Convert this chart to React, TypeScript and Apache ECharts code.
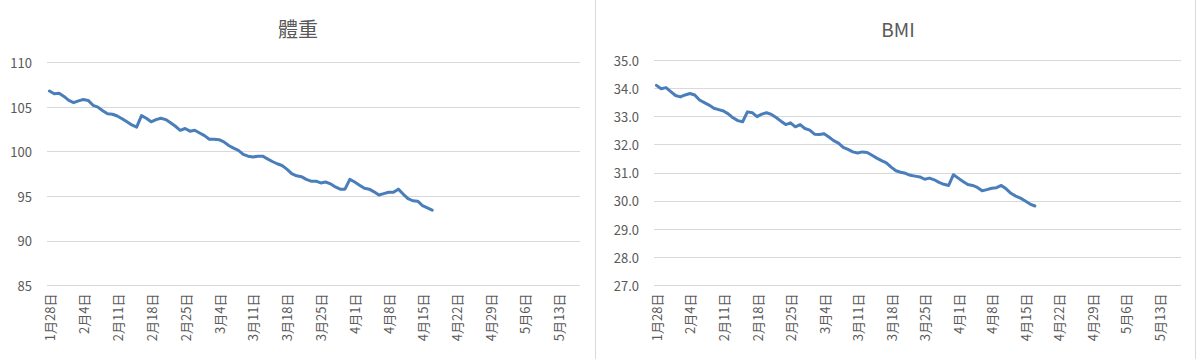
import React, { useEffect, useRef } from "react";
import * as echarts from "echarts";

// Day-by-day categories: 1月28日 … 5月17日 (110 days, non-leap year)
const startMonth = 1;
const startDay = 28;
const dayCount = 110;
const monthLengths = [31, 28, 31, 30, 31, 30];

const weightTitle = "體重";
const bmiTitle = "BMI";

// 體重 (kg), one reading per day from 1月28日
const weightValues = [
  106.8, 106.5, 106.55, 106.2, 105.75, 105.5, 105.7, 105.85, 105.75, 105.2,
  105.0, 104.6, 104.25, 104.2, 104.0, 103.7, 103.35, 103.0, 102.75, 104.05,
  103.75, 103.35, 103.6, 103.75, 103.6, 103.25, 102.85, 102.4, 102.6, 102.3,
  102.4, 102.1, 101.8, 101.4, 101.4, 101.35, 101.1, 100.7, 100.4, 100.15,
  99.7, 99.5, 99.4, 99.5, 99.5, 99.2, 98.9, 98.65, 98.45, 98.05,
  97.55, 97.3, 97.2, 96.9, 96.7, 96.7, 96.5, 96.6, 96.4, 96.05,
  95.8, 95.8, 96.9, 96.6, 96.25, 95.9, 95.8, 95.5, 95.15, 95.3,
  95.45, 95.45, 95.8, 95.25, 94.75, 94.5, 94.45, 93.95, 93.7, 93.45,
];

// BMI, one reading per day from 1月28日
const bmiValues = [
  34.1, 33.98, 34.02, 33.88, 33.74, 33.69, 33.76, 33.81, 33.76, 33.58,
  33.49, 33.4, 33.29, 33.24, 33.19, 33.09, 32.95, 32.85, 32.81, 33.16,
  33.13, 32.99, 33.08, 33.13, 33.07, 32.96, 32.83, 32.71, 32.77, 32.63,
  32.71, 32.57, 32.51, 32.37, 32.36, 32.38, 32.27, 32.14, 32.05, 31.9,
  31.83, 31.74, 31.7, 31.74, 31.72, 31.62, 31.52, 31.43, 31.35, 31.2,
  31.07, 31.02, 30.98, 30.91, 30.88, 30.85, 30.77, 30.81, 30.75, 30.66,
  30.59, 30.55, 30.93, 30.81, 30.69, 30.58, 30.55, 30.48, 30.36, 30.4,
  30.45, 30.47, 30.55, 30.43, 30.27, 30.17, 30.1, 30.0, 29.89, 29.82,
];

const weightAxis = { min: 85, max: 110, interval: 5 };
const bmiAxis = { min: 27, max: 35, interval: 1 };

function buildCategories(): string[] {
  const out: string[] = [];
  let m = startMonth;
  let d = startDay;
  for (let i = 0; i < dayCount; i++) {
    out.push(`${m}月${d}日`);
    d++;
    if (d > monthLengths[m - 1]) {
      d = 1;
      m++;
    }
  }
  return out;
}

const categories = buildCategories();

const FONT = "'Noto Sans CJK TC', 'Noto Sans', sans-serif";
const TEXT = "#595959";
const GRID = "#D9D9D9";
const LINE = "#4A7EBB";

export default function App() {
  const ref = useRef<HTMLDivElement>(null);

  useEffect(() => {
    if (!ref.current) return;
    const chart = echarts.init(ref.current, undefined, { renderer: "svg" });

    const xAxisBase = (gridIndex: number) => ({
      type: "category" as const,
      gridIndex,
      data: categories,
      boundaryGap: true,
      axisLine: { show: false },
      axisTick: { show: false },
      splitLine: { show: false },
      axisLabel: {
        interval: 6,
        rotate: 90,
        margin: 8,
        fontSize: 13,
        color: TEXT,
        fontFamily: FONT,
      },
    });

    const yAxisBase = (gridIndex: number, ax: any, digits: number) => ({
      type: "value" as const,
      gridIndex,
      min: ax.min,
      max: ax.max,
      interval: ax.interval,
      axisLine: { show: false },
      axisTick: { show: false },
      splitLine: { show: true, lineStyle: { color: GRID, width: 1 } },
      axisLabel: {
        margin: 15,
        fontSize: 13,
        color: TEXT,
        fontFamily: FONT,
        formatter: (v: number) => v.toFixed(digits),
      },
    });

    chart.setOption({
      animation: false,
      backgroundColor: "#ffffff",
      grid: [
        { left: 47, top: 62.5, width: 533, height: 223 },
        { left: 654, top: 60, width: 527, height: 225.5 },
      ],
      xAxis: [xAxisBase(0), xAxisBase(1)],
      yAxis: [yAxisBase(0, weightAxis, 0), yAxisBase(1, bmiAxis, 1)],
      series: [
        {
          type: "line",
          xAxisIndex: 0,
          yAxisIndex: 0,
          data: weightValues,
          showSymbol: false,
          symbol: "none",
          lineStyle: { color: LINE, width: 3, join: "round", cap: "round" },
          itemStyle: { color: LINE },
        },
        {
          type: "line",
          xAxisIndex: 1,
          yAxisIndex: 1,
          data: bmiValues,
          showSymbol: false,
          symbol: "none",
          lineStyle: { color: LINE, width: 3, join: "round", cap: "round" },
          itemStyle: { color: LINE },
        },
      ],
      graphic: [
        {
          type: "text",
          x: 298,
          y: 28,
          style: {
            text: weightTitle,
            fontSize: 20,
            fontFamily: FONT,
            fill: TEXT,
            align: "center",
            verticalAlign: "middle",
          },
        },
        {
          type: "text",
          x: 898,
          y: 28,
          style: {
            text: bmiTitle,
            fontSize: 19,
            fontFamily: FONT,
            fill: TEXT,
            align: "center",
            verticalAlign: "middle",
          },
        },
        {
          type: "line",
          shape: { x1: 595.5, y1: 0, x2: 595.5, y2: 359 },
          style: { stroke: GRID, lineWidth: 1 },
        },
        {
          type: "line",
          shape: { x1: 1195.5, y1: 0, x2: 1195.5, y2: 359 },
          style: { stroke: GRID, lineWidth: 1 },
        },
      ],
    });

    return () => chart.dispose();
  }, []);

  return (
    <div
      ref={ref}
      style={{ position: "fixed", left: 0, top: 0, width: 1200, height: 359 }}
    />
  );
}
